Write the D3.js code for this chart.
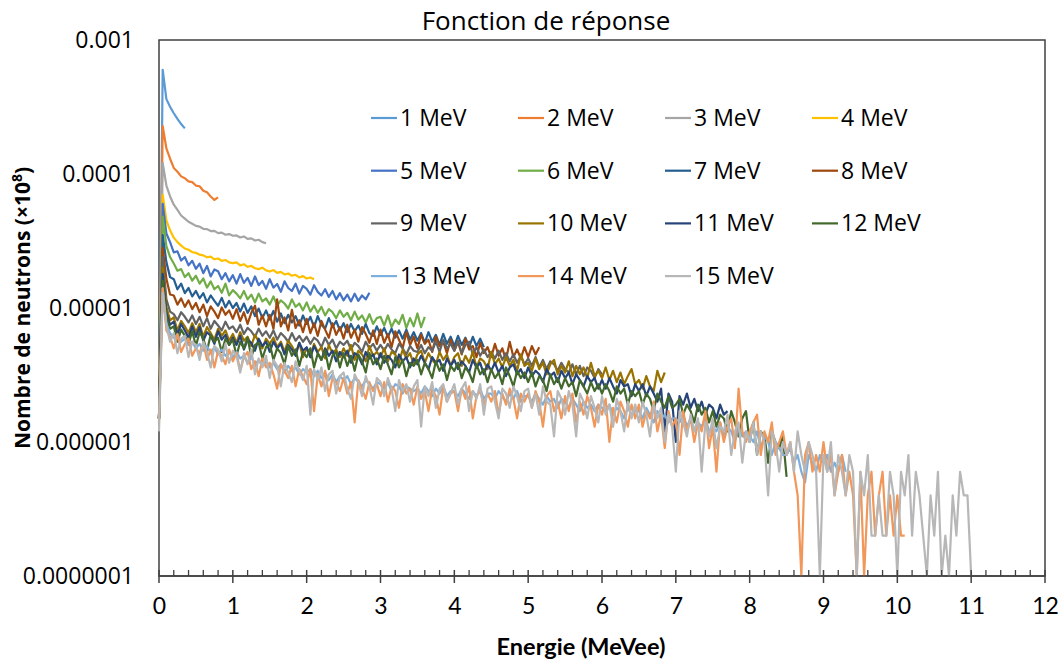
<!DOCTYPE html>
<html>
<head>
<meta charset="utf-8">
<script src="https://cdn.jsdelivr.net/npm/d3@7"></script>
<style>
  body { margin: 0; background: #fff; }
  svg { display: block; }
</style>
</head>
<body>
<div id="chart"></div>
<script>
// --- Data ---
// one value every BIN MeVee starting at 0, values in units of UNIT
const BIN = 0.05;
const UNIT = 1e-6;

const seriesNames = ["1 MeV", "2 MeV", "3 MeV", "4 MeV", "5 MeV", "6 MeV", "7 MeV", "8 MeV",
    "9 MeV", "10 MeV", "11 MeV", "12 MeV", "13 MeV", "14 MeV", "15 MeV"];

const xTickValues = [0, 1, 2, 3, 4, 5, 6, 7, 8, 9, 10, 11, 12];
const yTickValues = [1e-3, 1e-4, 1e-5, 1e-6, 1e-7];
const yTickLabels = ["0.001", "0.0001", "0.00001", "0.000001", "0.0000001"];

const mev1 = [1.5, 600, 362, 318, 284, 258, 236, 219];
const mev2 = [1.5, 228, 155, 130, 111, 104, 96, 93, 88, 87, 82, 81, 75, 73, 68, 64, 67];
const mev3 = [1.5, 121, 82, 68, 59, 54, 49, 46.5, 44, 42.5, 41, 40.5, 39, 38.8, 37.5, 37.6, 36.2, 36.5, 35.2, 35.6,
    34.6, 34.8, 33.6, 34.2, 32.8, 33.1, 31.9, 32.3, 31, 30.4];
const mev4 = [1.5, 70, 45, 38, 33.5, 31, 29.2, 27.8, 27.2, 26.1, 25.8, 25, 24.7, 23.9, 24.2, 23.1, 23.4, 22.5, 22.8, 21.9,
    21.6, 21.9, 20.8, 21.2, 20.3, 20.6, 19.8, 19.5, 20, 19.1, 18.7, 19.2, 18.3, 18.6, 17.8, 18.1, 17.4, 17.7, 16.9, 17.3,
    16.6, 16.9, 16.4];
const mev5 = [1.5, 60, 36, 31, 26, 26.5, 22.6, 24, 20.8, 22.5, 19.6, 21.4, 18.2, 20.6, 17.2, 19.4, 18.8, 16.4, 18.2, 15.8,
    17.6, 15.2, 17.9, 15.4, 16.8, 14.6, 17.2, 14.8, 15.9, 13.9, 16.4, 14.2, 15.1, 13.2, 15.8, 14.1, 13.4, 15.2, 12.8, 14.6,
    13.9, 12.6, 14.8, 13.2, 12.4, 13.8, 12.1, 13.4, 11.6, 12.9, 11.4, 12.6, 11.2, 12.8, 11.3, 12.4, 11.6, 13];
const mev6 = [1.5, 48, 29, 24, 21.5, 19, 19.5, 17, 18.2, 16, 17.4, 15.2, 16.6, 14.2, 15.8, 13.8, 14.6, 13, 15.2, 12.4,
    13.6, 12.8, 11.8, 13.4, 11.6, 12.6, 11, 12.8, 11.2, 11.8, 10.6, 12.2, 10.4, 11.4, 10.8, 9.9, 11.6, 10.2, 10.8, 9.6,
    11, 9.4, 10.4, 9.2, 10.2, 8.8, 9.8, 9.3, 8.4, 9.6, 8.6, 9.2, 8.1, 9.4, 8.2, 8.8, 7.8, 9, 7.6, 8.4,
    8.6, 7.4, 8.8, 7.2, 8.2, 7.6, 8.9, 7.1, 8.4, 7.3, 9.1, 7.2, 8.6];
const mev7 = [1.5, 35, 22, 17, 16.4, 13.8, 15.2, 12.9, 14.1, 12.2, 13.4, 11.8, 12.9, 11, 12.4, 11.3, 10.4, 11.9, 10.1, 11.3,
    10, 10.9, 9.4, 10.8, 9.2, 10.3, 8.7, 9.9, 8.4, 9.6, 8.2, 9.5, 7.9, 9.1, 7.7, 8.9, 7.8, 8.7, 7.4, 8.8,
    7.6, 8.6, 7.2, 8.7, 7.5, 7, 8.4, 7.2, 8, 6.8, 7.7, 6.6, 7.6, 6.7, 7.4, 6.4, 7.6, 6.5, 6.2, 7.3,
    6.3, 7.1, 6.1, 7, 6, 6.8, 5.9, 6.9, 5.8, 6.6, 5.7, 6.5, 5.5, 6.6, 5.6, 6.3, 5.3, 6.4, 5.4, 6.1,
    5.2, 6.2, 5.3, 6, 5.1, 6.1, 5.2, 5.9, 5.1];
const mev8 = [1.5, 28, 16.5, 12.6, 12.4, 10.6, 11.8, 10.2, 11.4, 9.8, 10.9, 9.3, 10.6, 8.7, 10.3, 9.4, 8.4, 10.1, 8.9, 9.6,
    8.3, 9.8, 8, 9.3, 7.6, 9.2, 10.4, 7.5, 8.8, 7.3, 8.9, 7, 11.6, 7.3, 8.5, 6.8, 9.7, 7.1, 8.1, 6.6,
    8.3, 6.5, 7.7, 6.2, 8, 6.9, 6, 7.7, 6.3, 7.2, 5.9, 7.5, 6, 6.9, 5.6, 7.2, 6.4, 5.5, 6.8, 5.4,
    6.9, 5.5, 6.4, 5.1, 6.7, 5.8, 5, 6.6, 5.3, 6.1, 5, 6.3, 5.4, 5.8, 4.7, 6.1, 5.2, 5.6, 4.6, 5.8,
    4.8, 5.6, 4.5, 5.9, 4.9, 5.2, 4.3, 5.5, 4.6, 5.1, 4.3, 5.4, 4.4, 5, 4.1, 5.6, 4.3, 4.9, 4.2, 5.1,
    4.3, 5.2, 4.5, 5.1];
const mev9 = [1.5, 24, 11.6, 9.4, 9, 8.1, 9.3, 8.6, 7.8, 8.8, 7.6, 8.6, 7.3, 8.4, 7, 8, 7.4, 6.8, 7.9, 7,
    7.3, 6.6, 7.5, 6.4, 7.1, 6.7, 6.1, 7, 6.2, 6.7, 6, 6.8, 5.8, 6.5, 6.1, 5.6, 6.5, 5.7, 6.2, 5.6,
    6.1, 5.4, 6, 5.7, 5.1, 6, 5.3, 5.8, 5, 5.6, 5.3, 5.7, 4.9, 5.5, 5.2, 4.7, 5.6, 5, 5.4, 4.8,
    5.3, 4.8, 5.4, 4.9, 4.6, 5.4, 5, 4.5, 5.2, 4.8, 4.7, 5.3, 4.6, 5.1, 4.8, 5.6, 4.7, 5.8, 5, 5.4,
    4.8, 5.7, 4.6, 5.3, 5.6, 4.5, 5.1, 4.4, 4.9, 4.3, 4.7, 4.2, 4.8, 4.1, 4.6, 4, 4.5, 3.9, 4.4, 3.8,
    4.2, 3.7, 4.3, 3.6, 4.1, 3.5, 4, 3.8, 3.4, 3.9, 3.5, 3.3, 3.8, 3.2, 3.7, 3.1, 3.6, 3.4, 3, 3.5,
    3.2];
const mev10 = [1.5, 20, 10.2, 8.1, 8.5, 6.8, 8, 7.3, 6.5, 7.7, 6.6, 7.6, 6.1, 7.2, 6.5, 5.8, 7, 6.2, 6.8, 5.7,
    6.4, 5.5, 6.6, 5.7, 6.1, 5.2, 6.3, 5.6, 5, 5.9, 5.4, 6, 5.1, 5.6, 4.7, 5.7, 5.2, 4.6, 5.5, 4.3,
    5, 4.3, 5.4, 4.7, 5.1, 4.2, 5.3, 4.6, 4.9, 4.3, 5, 4.4, 5.3, 4.1, 4.8, 4.5, 4, 5.2, 4.4, 4.7,
    4.3, 5, 4, 4.7, 4.5, 3.9, 4.9, 4.2, 4.6, 3.8, 4.5, 4.8, 3.9, 4.6, 4.1, 3.8, 4.7, 4.1, 4.5, 3.7,
    4.3, 4.6, 3.7, 4.4, 3.9, 4.7, 3.6, 4.2, 4, 3.5, 4.7, 3.8, 4.2, 3.6, 4.3, 3.7, 4.1, 3.4, 4.5, 3.7,
    3.9, 3.4, 4.2, 3.5, 3.9, 3.2, 3.8, 4.1, 3.2, 3.7, 3.3, 4, 3.1, 3.7, 3.2, 3.6, 3, 3.9, 3.1, 3.4,
    3, 3.6, 2.9, 3.4, 2.8, 3.3, 2.7, 3.1, 3.5, 2.7, 2.9, 2.5, 3.1, 2.6, 2.4, 3.4, 2.8, 3.3];
const mev11 = [1.5, 18, 9.2, 7.5, 7.9, 6.3, 7.6, 6.8, 6, 7.3, 6.1, 7.2, 5.7, 6.6, 6.2, 5.4, 6.7, 5.8, 6.3, 5.3,
    6, 5.3, 6.2, 4.9, 5.8, 5.5, 4.8, 5.9, 5.2, 5.6, 4.7, 5.6, 5, 5.4, 4.5, 5.3, 4.9, 4.4, 5.5, 4.8,
    5.1, 4.3, 5.2, 4.6, 4.1, 5, 4.4, 4.8, 4, 4.7, 4.3, 4.8, 3.9, 4.6, 4.4, 3.8, 4.7, 4.2, 4.5, 3.8,
    4.6, 3.9, 4.4, 4.1, 3.6, 4.5, 4, 4.3, 3.6, 4.2, 3.8, 4.4, 3.9, 3.5, 4.3, 3.9, 4.1, 3.4, 4.2, 3.7,
    4.1, 3.5, 4, 3.7, 3.3, 4.1, 3.6, 3.9, 3.2, 3.8, 3.4, 3.9, 3.3, 3.7, 3.1, 3.6, 3.8, 3.2, 3.5, 3,
    3.6, 3.1, 3.4, 3.2, 2.8, 3.5, 3.1, 3.3, 2.8, 3.4, 3, 3.3, 2.7, 3.2, 2.9, 2.6, 3.1, 2.8, 3, 2.5,
    2.9, 2.5, 3, 2.6, 2.3, 2.9, 2.6, 2.7, 2.2, 2.7, 2.4, 2.7, 2.2, 2.6, 2.3, 2, 2.5, 1.2, 2.3, 2,
    1, 2.2, 1.9, 2.3, 1.8, 2.1, 1.7, 2, 1.6, 1.9, 1.8, 1.5, 1.9, 1.6, 1.7];
const mev12 = [1.5, 16, 8.6, 7, 7.3, 5.6, 6.9, 6.2, 5.4, 6.7, 5.2, 6.6, 5.9, 4.8, 6.3, 5.6, 6, 4.7, 5.9, 5.3,
    5.8, 4.4, 5.6, 5, 6, 4.3, 5.3, 5.5, 4.2, 5.1, 5.4, 4.1, 5, 4.6, 3.8, 5.2, 4.4, 4.9, 3.7, 4.7,
    4.3, 5, 3.6, 4.6, 4.1, 4.8, 3.5, 4.4, 4.7, 3.6, 4.6, 3.7, 4.4, 3.4, 4.5, 4, 3.3, 4.6, 3.8, 4.2,
    3.5, 4.4, 3.8, 3.2, 4.3, 3.6, 4.1, 3.1, 3.9, 3.7, 4.1, 3.2, 3.9, 3.5, 3, 4, 3.4, 3.8, 2.9, 3.7,
    3.4, 3.9, 3, 3.6, 3.3, 2.8, 3.8, 3.2, 3.5, 2.8, 3.5, 3, 3.3, 2.7, 3.6, 3.1, 2.6, 3.4, 3, 3.3,
    2.8, 3.3, 2.6, 3.1, 2.9, 2.4, 3.2, 2.7, 3, 2.5, 3, 2.6, 2.8, 2.2, 2.9, 2.6, 2.3, 2.8, 2.4, 2.7,
    2.3, 2.7, 2.4, 2, 2.6, 2.3, 2.5, 1.9, 2.4, 2.2, 2.4, 1.9, 2.3, 2.1, 1.7, 2.3, 2, 1.8, 2.2, 1.8,
    1.9, 2.1, 1.6, 1.9, 1.7, 1.4, 1.9, 1.6, 1.8, 1.4, 1.7, 1.3, 1.6, 1.5, 1.2, 1.7, 1.4, 1.1, 1.5, 1.7,
    1, 1.4, 0.8, 1.2, 1.1, 0.7, 1.2, 1, 0.9, 1.1, 0.55];
const mev13 = [1.5, 14, 7.6, 6.5, 6, 6.3, 5.6, 5.9, 5.3, 5.6, 5, 5.4, 4.8, 5.2, 4.6, 5.1, 4.5, 4.9, 4.4, 4.7,
    4.3, 4.7, 4.2, 4.4, 3.9, 4.3, 3.8, 4.1, 3.7, 4, 3.6, 3.9, 3.5, 3.8, 3.3, 3.7, 3.4, 3.6, 3.2, 3.5,
    3.3, 3.5, 3.1, 3.4, 3, 3.3, 2.9, 3.2, 2.8, 3.1, 2.9, 3.1, 2.7, 3, 2.8, 2.6, 2.9, 2.7, 2.5, 2.8,
    2.7, 2.5, 2.8, 2.4, 2.7, 2.6, 2.3, 2.6, 2.5, 2.4, 2.5, 2.3, 2.6, 2.4, 2.2, 2.5, 2.3, 2.6, 2.2, 2.4,
    2.4, 2.2, 2.5, 2.3, 2.1, 2.4, 2.2, 2.5, 2.1, 2.3, 2.3, 2.1, 2.4, 2.2, 2, 2.3, 2.1, 2.4, 2, 2.2,
    2.2, 2, 2.3, 2.1, 1.9, 2.2, 2, 2.1, 1.8, 2.1, 2, 1.8, 2.1, 1.9, 1.7, 2, 1.8, 1.9, 1.7, 1.9,
    1.8, 1.7, 1.9, 1.6, 1.8, 1.7, 1.5, 1.8, 1.6, 1.7, 1.7, 1.5, 1.8, 1.6, 1.4, 1.7, 1.5, 1.6, 1.4, 1.5,
    1.5, 1.4, 1.6, 1.3, 1.5, 1.2, 1.4, 1.3, 1.5, 1.2, 1.3, 1.2, 1.4, 1.1, 1.3, 1.2, 1, 1.3, 1.1, 1.2,
    1.1, 1, 1.2, 0.9, 1.1, 1, 0.8, 1, 0.9, 0.8, 0.8, 0.9, 0.7, 0.8, 0.6, 0.5, 0.8, 0.7, 0.6, 0.8,
    0.7, 0.8, 0.6, 0.7, 0.6, 0.8, 0.6];
const mev14 = [1.4, 14, 6.8, 6.1, 5, 6.4, 4.7, 5.4, 5.9, 4.4, 5, 4.6, 5.5, 4.1, 4.9, 3.6, 4.8, 4.4, 3.8, 4.9,
    4, 4.6, 3.4, 4.3, 4.7, 3.5, 4, 3.1, 4.2, 3.6, 3.9, 3.2, 2.5, 3.8, 3.4, 3, 3.7, 2.6, 3.5, 3.1,
    2.7, 3.5, 1.7, 3.2, 2.6, 3.4, 2.2, 3, 2.8, 2.4, 3, 2.3, 2.8, 1.4, 2.9, 2.5, 2.1, 2.8, 2.4, 2.7,
    2.2, 2.8, 2, 2.6, 2.4, 1.8, 2.7, 2.3, 2.5, 1.9, 2.6, 2.1, 2.4, 1.7, 2.5, 2.2, 1.6, 2.6, 2, 2.3,
    2.4, 1.7, 2.5, 2.1, 2.6, 1.5, 2.2, 2.4, 1.9, 2.3, 2, 2.4, 1.6, 2.3, 1.9, 2.5, 2.1, 1.5, 2.3, 2,
    2.3, 1.8, 2.4, 2, 1.3, 2.2, 2.4, 1.7, 2, 1.5, 2.2, 1.7, 2.3, 1.4, 2, 1.6, 2.2, 1.8, 1.3, 1.9,
    1.6, 2.1, 1, 1.8, 1.4, 2, 1.7, 1.3, 1.9, 1.5, 1.9, 1.3, 1.7, 1.5, 2, 1.2, 1.6, 0.9, 1.7, 1.3,
    1.5, 0.8, 1.7, 1.2, 1.5, 1, 1.4, 1.2, 1.7, 0.9, 1.3, 0.6, 1.4, 1, 1.3, 1.5, 0.9, 2.5, 1.2, 1,
    1.2, 1.4, 1.6, 0.8, 1.2, 1, 1.4, 0.8, 1, 1.2, 0.8, 1, 0.6, 0.4, 0, 0.8, 1, 0.6, 0.8, 0.6,
    1, 0.6, 0.8, 0.4, 0.6, 0.8, 0.4, 0.6, 0.4, 0, 0.6, 0, 0.4, 0.6, 0.2, 0.4, 0.6, 0.2, 0.4, 0.2,
    0.4, 0.2, 0.2];
const mev15 = [1.2, 13, 7.4, 5.6, 6.5, 4.6, 5.9, 6.2, 4.3, 5.6, 5.3, 4.1, 5.6, 4.7, 3.6, 5.2, 4.9, 4, 5.4, 3.9,
    4.8, 4.4, 3.3, 4.6, 3.8, 4.9, 3.2, 4.2, 3.6, 4.4, 3, 4.1, 3.7, 2.6, 3.9, 3.3, 2.8, 4, 3.4, 2.9,
    3.7, 1.6, 3.5, 2.9, 3.6, 2.4, 3.2, 3.4, 2.3, 3.1, 3.3, 2.5, 2.1, 3.2, 2.8, 2.2, 3.1, 2.6, 1.9, 3,
    2.8, 2.2, 3, 2.5, 1.7, 2.9, 2.4, 2.7, 2, 2.6, 2.9, 1.3, 2.6, 2.2, 2.8, 1.8, 2.5, 2.7, 2, 2.3,
    2.7, 1.9, 2.5, 2.8, 1.7, 2.4, 2.1, 2.7, 1.6, 2.5, 2.6, 2, 1.5, 2.5, 2.3, 1.8, 2.6, 2.2, 1.7, 2.4,
    2.5, 1.8, 2.3, 1.6, 2.6, 2, 1.9, 1.1, 2.4, 2.1, 1.6, 2.4, 1.9, 1.1, 2.3, 2, 1.5, 2.2, 1.8, 1.4,
    2.2, 1.6, 1.9, 1.3, 2.1, 1.7, 1.2, 2, 1.5, 1.9, 1.4, 2, 1.6, 1.1, 1.9, 1.5, 1.8, 1, 1.6, 1.3,
    0.6, 1.7, 1.4, 1.1, 1.6, 1.2, 1.5, 0.6, 1.4, 1.1, 1.5, 0.9, 1.3, 1.2, 1.6, 0.8, 1.2, 1.4, 0.7, 1.2,
    1, 1.4, 0.8, 1.2, 1, 0.4, 1.2, 1, 0.6, 1, 0.8, 1, 0.6, 1.2, 0.8, 0.6, 1, 0.8, 0.6, 0,
    0.8, 0.6, 1, 0.4, 0.8, 0.6, 0.4, 0.8, 0.6, 0, 0.6, 0.4, 0.8, 0.2, 0.2, 0.4, 0.2, 0.2, 0.6, 0.4,
    0, 0.6, 0.4, 0.8, 0.2, 0.6, 0.4, 0.2, 0, 0.4, 0.2, 0.6, 0, 0.2, 0, 0.4, 0.2, 0.6, 0.4, 0.4,
    0];

const responseData = [mev1, mev2, mev3, mev4, mev5, mev6, mev7, mev8, mev9, mev10, mev11, mev12, mev13, mev14, mev15];

// Excel 2013 series colours
const seriesColors = ["#5B9BD5", "#ED7D31", "#A5A5A5", "#FFC000", "#4472C4", "#70AD47",
    "#255E91", "#9E480E", "#636363", "#997300", "#264478", "#43682B",
    "#7CAFDD", "#F1975A", "#B7B7B7"];

// --- D3 Rendering ---
function renderResponse(containerSelector) {
    const width = 1059, height = 661;
    const plot = { left: 159, right: 1045, top: 40, bottom: 576 };
    const sans = "'Open Sans', 'DejaVu Sans', sans-serif";
    const narrow = "Lato, 'Open Sans', sans-serif";
    const axisColor = "#404040";

    const svg = d3.select(containerSelector)
        .append("svg")
        .attr("width", width)
        .attr("height", height);

    const x = d3.scaleLinear()
        .domain([0, 12])
        .range([plot.left, plot.right]);

    const y = d3.scaleLog()
        .domain([1e-7, 1e-3])
        .range([plot.bottom, plot.top]);

    // plot area border (top / right / left)
    svg.append("rect")
        .attr("x", plot.left)
        .attr("y", plot.top)
        .attr("width", plot.right - plot.left)
        .attr("height", plot.bottom - plot.top)
        .attr("fill", "none")
        .attr("stroke", axisColor)
        .attr("stroke-width", 1.5);

    // y tick labels
    const yAxis = svg.append("g")
        .attr("transform", `translate(${plot.left},0)`)
        .call(d3.axisLeft(y).tickValues(yTickValues).tickFormat((d, i) => yTickLabels[i]).tickSize(0).tickPadding(25));
    yAxis.select(".domain").remove();
    yAxis.selectAll("text")
        .style("font-family", sans)
        .style("font-size", "23px")
        .attr("fill", "#000");

    // series lines, zero counts drop to the axis minimum
    const line = d3.line()
        .x((d, i) => x(i * BIN))
        .y(d => y(Math.max(d * UNIT, 1e-7)));

    responseData.forEach((values, i) => {
        svg.append("path")
            .datum(values)
            .attr("fill", "none")
            .attr("stroke", seriesColors[i])
            .attr("stroke-width", 2.2)
            .attr("stroke-linejoin", "round")
            .attr("d", line);
    });

    // x axis: line, crossing major ticks, inside minor ticks
    const xAxis = svg.append("g")
        .attr("transform", `translate(0,${plot.bottom})`);
    xAxis.append("line")
        .attr("x1", plot.left).attr("x2", plot.right)
        .attr("stroke", axisColor).attr("stroke-width", 1.5);
    xAxis.selectAll(".minor")
        .data(d3.range(0, 60).map(k => k * 0.2).filter(v => Math.abs(v - Math.round(v)) > 1e-6))
        .join("line")
        .attr("x1", d => x(d)).attr("x2", d => x(d))
        .attr("y1", -6).attr("y2", 0)
        .attr("stroke", axisColor).attr("stroke-width", 1.3);
    xAxis.selectAll(".major")
        .data(xTickValues)
        .join("line")
        .attr("x1", d => x(d)).attr("x2", d => x(d))
        .attr("y1", -6).attr("y2", 7)
        .attr("stroke", axisColor).attr("stroke-width", 1.5);

    const xLabels = svg.append("g")
        .attr("transform", `translate(0,${plot.bottom})`)
        .call(d3.axisBottom(x).tickValues(xTickValues).tickFormat(d3.format("d")).tickSize(0).tickPadding(22));
    xLabels.select(".domain").remove();
    xLabels.selectAll("text")
        .style("font-family", narrow)
        .style("font-size", "23px")
        .attr("fill", "#000");

    // title
    svg.append("text")
        .attr("x", 546)
        .attr("y", 30)
        .attr("text-anchor", "middle")
        .style("font-family", sans)
        .style("font-size", "26px")
        .attr("fill", "#000")
        .text("Fonction de réponse");

    // axis titles
    svg.append("text")
        .attr("x", 581)
        .attr("y", 655)
        .attr("text-anchor", "middle")
        .style("font-family", narrow)
        .style("font-size", "23.5px")
        .style("font-weight", "bold")
        .attr("fill", "#000")
        .text("Energie (MeVee)");

    const yTitle = svg.append("text")
        .attr("transform", "translate(30,308) rotate(-90)")
        .attr("text-anchor", "middle")
        .style("font-family", sans)
        .style("font-size", "21px")
        .style("font-weight", "bold")
        .attr("fill", "#000");
    yTitle.append("tspan").text("Nombre de neutrons (×10");
    yTitle.append("tspan").attr("dy", -8).style("font-size", "14px").text("8");
    yTitle.append("tspan").attr("dy", 8).text(")");

    // legend, 4 columns
    const legend = svg.append("g")
        .attr("class", "legend");

    seriesNames.forEach((name, i) => {
        const g = legend.append("g")
            .attr("transform", `translate(${371 + (i % 4) * 147},${118 + Math.floor(i / 4) * 52.7})`);
        g.append("line")
            .attr("x1", 0).attr("x2", 26)
            .attr("stroke", seriesColors[i])
            .attr("stroke-width", 2.2);
        g.append("text")
            .attr("x", 29)
            .attr("y", 8)
            .style("font-family", sans)
            .style("font-size", "23px")
            .attr("fill", "#000")
            .text(name);
    });
}

renderResponse("#chart");
</script>
</body>
</html>
